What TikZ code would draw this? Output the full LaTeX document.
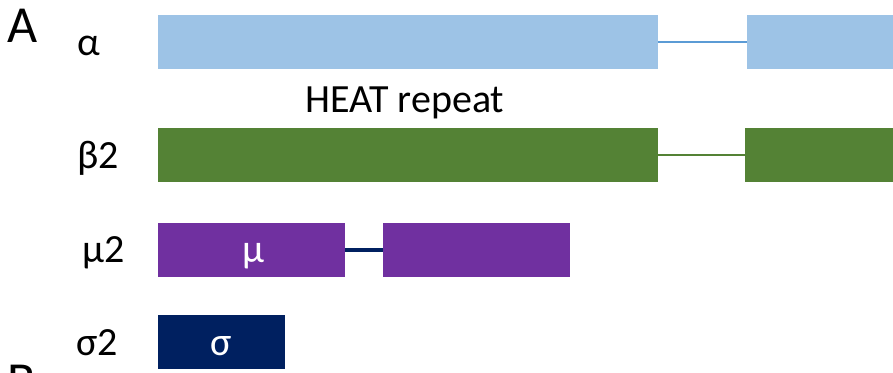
\documentclass[tikz,border=0pt]{standalone}
\usepackage{fontspec}
\setmainfont{Carlito}
\definecolor{lblue}{HTML}{9DC3E6}
\definecolor{mblue}{HTML}{5B9BD5}
\definecolor{dgreen}{HTML}{548235}
\definecolor{purp}{HTML}{7030A0}
\definecolor{navy}{HTML}{002060}
\begin{document}
\begin{tikzpicture}[x=1pt,y=-1pt,
  bar/.style={rectangle,inner sep=0pt,outer sep=0pt,draw=none},
  lbl/.style={anchor=base west,inner sep=0pt,font=\fontsize{40}{40}\selectfont},
  inlbl/.style={anchor=base,inner sep=0pt,text=white,font=\fontsize{40}{40}\selectfont},
  big/.style={anchor=base west,inner sep=0pt,font=\fontsize{52}{52}\selectfont}]
\useasboundingbox (0,0) rectangle (893,372);
\clip (0,0) rectangle (893,372);
% bars
\node[bar,fill=lblue,minimum width=500,minimum height=54] (a1) at (408,42) {};
\node[bar,fill=lblue,minimum width=146,minimum height=54] (a2) at (820,42) {};
\node[bar,fill=dgreen,minimum width=500,minimum height=54] (b1) at (408,155) {};
\node[bar,fill=dgreen,minimum width=148,minimum height=54] (b2) at (819,155) {};
\node[bar,fill=purp,minimum width=187,minimum height=54] (m1) at (251.5,250) {};
\node[bar,fill=purp,minimum width=187,minimum height=54] (m2) at (476.5,250) {};
\node[bar,fill=navy,minimum width=127,minimum height=54] (s1) at (221.5,342) {};
% linkers
\draw[mblue,line width=2.2] (a1.east) -- (a2.west);
\draw[dgreen,line width=2.2] (b1.east) -- (b2.west);
\draw[navy,line width=3.2] (m1.east) -- (m2.west);
% labels
\node[big] (A) at (7,42) {A};
\node[big] (B) at (7,398) {B};
\node[lbl] (la) at (77,55) {α};
\node[lbl] (lb) at (77,168) {β2};
\node[lbl] (lm) at (82,262) {μ2};
\node[lbl] (ls) at (76,355) {σ2};
\node[lbl] (heat) at (305,112) {HEAT repeat};
\node[inlbl] (mu) at (253,262) {μ};
\node[inlbl] (sg) at (221,355) {σ};
\end{tikzpicture}
\end{document}
